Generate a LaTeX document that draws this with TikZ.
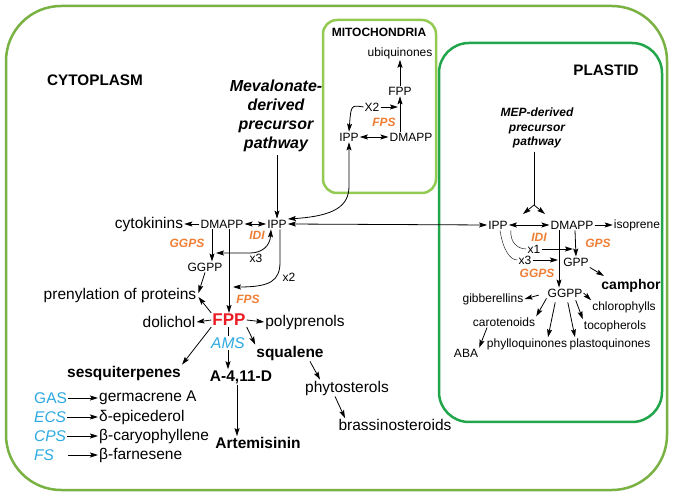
\documentclass[tikz,border=0pt]{standalone}
\usepackage{fontspec}
\setmainfont{Liberation Sans}
\usetikzlibrary{arrows.meta}
\definecolor{cytogreen}{HTML}{79B142}
\definecolor{mitogreen}{HTML}{92CA52}
\definecolor{plastgreen}{HTML}{22A64B}
\definecolor{enzorange}{HTML}{EF7E35}
\definecolor{enzcyan}{HTML}{2CA9E1}
\definecolor{fppred}{HTML}{EC1C24}
\begin{document}
\begin{tikzpicture}[x=1pt,y=-1pt,
    sm/.style={inner sep=1pt,font=\fontsize{12}{14}\selectfont},
    lg/.style={inner sep=1pt,font=\fontsize{15.5}{18}\selectfont},
    lgb/.style={inner sep=1pt,font=\fontsize{15.5}{18}\selectfont\bfseries},
    enz/.style={inner sep=1pt,text=enzorange,font=\fontsize{12}{14}\selectfont\bfseries\itshape},
    cyenz/.style={inner sep=1pt,text=enzcyan,font=\fontsize{15.5}{18}\selectfont\itshape},
    arr/.style={-{Stealth[length=8pt,width=5pt,inset=1.5pt]},line width=0.8pt},
    darr/.style={{Stealth[length=8pt,width=5pt,inset=1.5pt]}-{Stealth[length=8pt,width=5pt,inset=1.5pt]},line width=0.8pt}]
          \fill[white] (0,0) rectangle (673,497);
          \useasboundingbox (0,0) rectangle (673,497);

          \draw[cytogreen,line width=2.5pt,rounded corners=55pt] (6,6) rectangle (667,490);
          \draw[mitogreen,line width=2.5pt,rounded corners=14pt] (323,20) rectangle (436,193);
          \draw[plastgreen,line width=2.5pt,rounded corners=30pt] (439,43) rectangle (662,422);

          \node[font=\fontsize{15.3}{18}\selectfont\bfseries] (cyto) at (95,80) {CYTOPLASM};
          \node[align=center,font=\fontsize{16}{19}\selectfont\bfseries\itshape] (mva) at (276,116) {Mevalonate-\\derived\\precursor\\pathway};
          \node[sm] (ippc) at (277,224) {IPP};
          \node[sm] (dmappc) at (222,224) {DMAPP};
          \node[lg] (cytok) at (149,224) {cytokinins};
          \node[enz] (ggpsc) at (187,243) {GGPS};
          \node[sm] (ggppc) at (205,267) {GGPP};
          \node[enz] (idic) at (257,235) {IDI};
          \node[sm] (x3c) at (256,258) {x3};
          \node[sm] (x2c) at (289,277) {x2};
          \node[enz] (fpsc) at (248,299) {FPS};
          \node[inner sep=1pt,text=fppred,font=\fontsize{17}{20}\selectfont\bfseries] (fpp) at (229,320) {FPP};
          \node[lg] (prenyl) at (120,295) {prenylation of proteins};
          \node[lg] (dolich) at (169,322) {dolichol};
          \node[lg] (polypr) at (305,322) {polyprenols};
          \node[cyenz] (ams) at (228,343) {AMS};
          \node[lgb] (squal) at (290,353) {squalene};
          \node[lgb] (amorph) at (241,377) {A-4,11-D};
          \node[lgb] (artem) at (258,443) {Artemisinin};
          \node[lgb] (sesq) at (124,373) {sesquiterpenes};
          \node[lg] (phyto) at (347,388) {phytosterols};
          \node[lg] (brass) at (395,425) {brassinosteroids};

          \node[cyenz,anchor=west] (gas) at (33,398) {\upshape GAS};
          \node[cyenz,anchor=west] (ecs) at (33,417) {ECS};
          \node[cyenz,anchor=west] (cps) at (33,436) {CPS};
          \node[cyenz,anchor=west] (fs) at (33,455) {FS};
          \node[lg,anchor=west] (germ) at (98,398) {germacrene A};
          \node[lg,anchor=west] (epic) at (98,417) {δ-epicederol};
          \node[lg,anchor=west] (caryo) at (98,436) {β-caryophyllene};
          \node[lg,anchor=west] (farn) at (98,455) {β-farnesene};
          \draw[arr] (gas.east) -- (germ.west);
          \draw[arr] (ecs.east) -- (epic.west);
          \draw[arr] (cps.east) -- (caryo.west);
          \draw[arr] (gas.east |- fs) -- (farn.west);

          \draw[arr] (mva.south -| ippc.north) -- (ippc.north);
          \draw[darr] (dmappc) -- (ippc);
          \draw[arr] (dmappc) -- (cytok);
          \draw[arr] ([xshift=-10pt]dmappc.south) -- ([xshift=7pt]ggppc.north);
          \draw[arr] ([xshift=7pt]dmappc.south) -- (fpp.north);
          \coordinate (x3tip) at (216,253);
          \draw[darr] ([xshift=-6pt]ippc.south) .. controls (270,246) and (262,253) .. (250,253) -- (x3tip);
          \coordinate (x2tip) at (233,287);
          \draw[arr] ([xshift=3pt]ippc.south) -- (280,262) .. controls (280,281) and (270,287) .. (x2tip);

          \draw[arr] (fpp.west) -- (dolich.east);
          \draw[arr] (fpp.east) -- (polypr.west);
          \draw[arr] (fpp.north west) -- ([xshift=1pt,yshift=-2pt]prenyl.east);
          \draw[arr] (ggppc.south) -- ([xshift=1pt,yshift=2pt]prenyl.east);
          \draw[arr] (fpp.south west) -- (sesq.north east);
          \draw (fpp.south -| ams.north) -- (ams.north);
          \draw[arr] (ams.south) -- (ams.south |- amorph.north);
          \draw[arr] (fpp.south east) -- (squal.north west);
          \draw[arr] ([xshift=-4pt]amorph.south) -- ([xshift=-21pt]artem.north);
          \draw[arr] ([xshift=20pt]squal.south) -- ([xshift=-27pt]phyto.north);
          \draw[arr] ([xshift=-12pt]phyto.south) -- ([xshift=-50pt]brass.north);

          \node[font=\fontsize{12}{14}\selectfont\bfseries] (mito) at (379,32) {MITOCHONDRIA};
          \node[sm] (ubiq) at (400,53) {ubiquinones};
          \node[sm] (fppm) at (400,91) {FPP};
          \node[sm] (x2m) at (372,107) {X2};
          \node[enz] (fpsm) at (384,122) {FPS};
          \node[sm] (ippm) at (349,137) {IPP};
          \node[sm] (dmappm) at (411,137) {DMAPP};
          \draw[arr] (dmappm.north -| fppm.south) -- (fppm.south);
          \draw[arr] (fppm.north) -- (ubiq.south);
          \draw[darr] (ippm) -- (dmappm);
          \draw[arr,shorten >=2pt] (x2m.east) -- (x2m.east -| fppm.south);
          \draw[arr] (x2m.west) .. controls (351,105) .. (ippm.north);
          \draw[darr] ([yshift=5pt]ippc.east) .. controls (335,216) and (349,206) .. (349,186) -- (ippm.south);

          \node[font=\fontsize{15.2}{18}\selectfont\bfseries] (plast) at (606,70) {PLASTID};
          \node[align=center,font=\fontsize{12}{14.5}\selectfont\bfseries\itshape] (mep) at (537,128) {MEP-derived\\precursor\\pathway};
          \node[sm] (ippp) at (498,225) {IPP};
          \node[sm] (dmappp) at (572,225) {DMAPP};
          \node[sm] (isop) at (637,225) {isoprene};
          \node[enz] (idip) at (539,237) {IDI};
          \node[enz] (gpsp) at (598,243) {GPS};
          \node[sm] (gppp) at (576,262) {GPP};
          \node[enz] (ggpsp) at (537,273) {GGPS};
          \node[sm] (ggppp) at (565,293) {GGPP};
          \node[sm] (x1p) at (534,249) {x1};
          \node[sm] (x3p) at (525,260) {x3};
          \node[font=\fontsize{14}{16}\selectfont\bfseries] (camph) at (631,286) {camphor};
          \node[sm] (gibb) at (493,299) {gibberellins};
          \node[sm] (chlor) at (624,307) {chlorophylls};
          \node[sm] (carot) at (504,322) {carotenoids};
          \node[sm] (tocoph) at (615,326) {tocopherols};
          \node[sm] (phyllo) at (527,344) {phylloquinones};
          \node[sm] (plasto) at (610,344) {plastoquinones};
          \node[sm] (aba) at (466,353) {ABA};

          \draw[darr] (ippc.east) -- (ippp.west);
          \coordinate (mepsplit) at (534,205);
          \coordinate (meptipl) at (523,214);
          \coordinate (meptipr) at (545,214);
          \draw[line width=0.8pt] (mep.south -| mepsplit) -- (mepsplit);
          \draw[arr] (mepsplit) -- (meptipl);
          \draw[arr] (mepsplit) -- (meptipr);
          \draw[darr] (ippp) -- (dmappp);
          \draw[arr] (dmappp) -- (isop);
          \draw[arr] ([xshift=3pt]dmappp.south) -- (gppp.north);
          \draw[arr] ([xshift=-13pt]dmappp.south) -- ([xshift=-6pt]ggppp.north);
          \draw ([xshift=2pt]ippp.south east) .. controls (510,243) and (518,249) .. (x1p.west);
          \draw[arr,shorten >=3pt] (x1p.east) -- (x1p.east -| gppp.north);
          \draw ([xshift=2pt]ippp.south) .. controls (503,250) and (510,260) .. (x3p.west);
          \draw[arr,shorten >=7pt] (x3p.east) -- (x3p.east -| ggppp.north);
          \draw[arr] (gppp.south east) -- ([xshift=6pt]camph.north west);
          \draw[arr,shorten <=8pt] (ggppp.west) -- (gibb.east);
          \draw[arr] (ggppp.east) -- (chlor.north west);
          \draw[arr] (ggppp.south west) -- (carot.north east);
          \draw[arr,shorten <=2pt] ([xshift=10pt]ggppp.south) -- (tocoph.north west);
          \draw[arr,shorten <=4pt] ([xshift=-9pt]ggppp.south) -- ([xshift=21pt]phyllo.north);
          \draw[arr,shorten <=4pt] ([xshift=2pt]ggppp.south) -- ([xshift=-35pt]plasto.north);
          \draw[arr] ([xshift=-17pt]carot.south) -- (aba.north east);

\end{tikzpicture}
\end{document}
